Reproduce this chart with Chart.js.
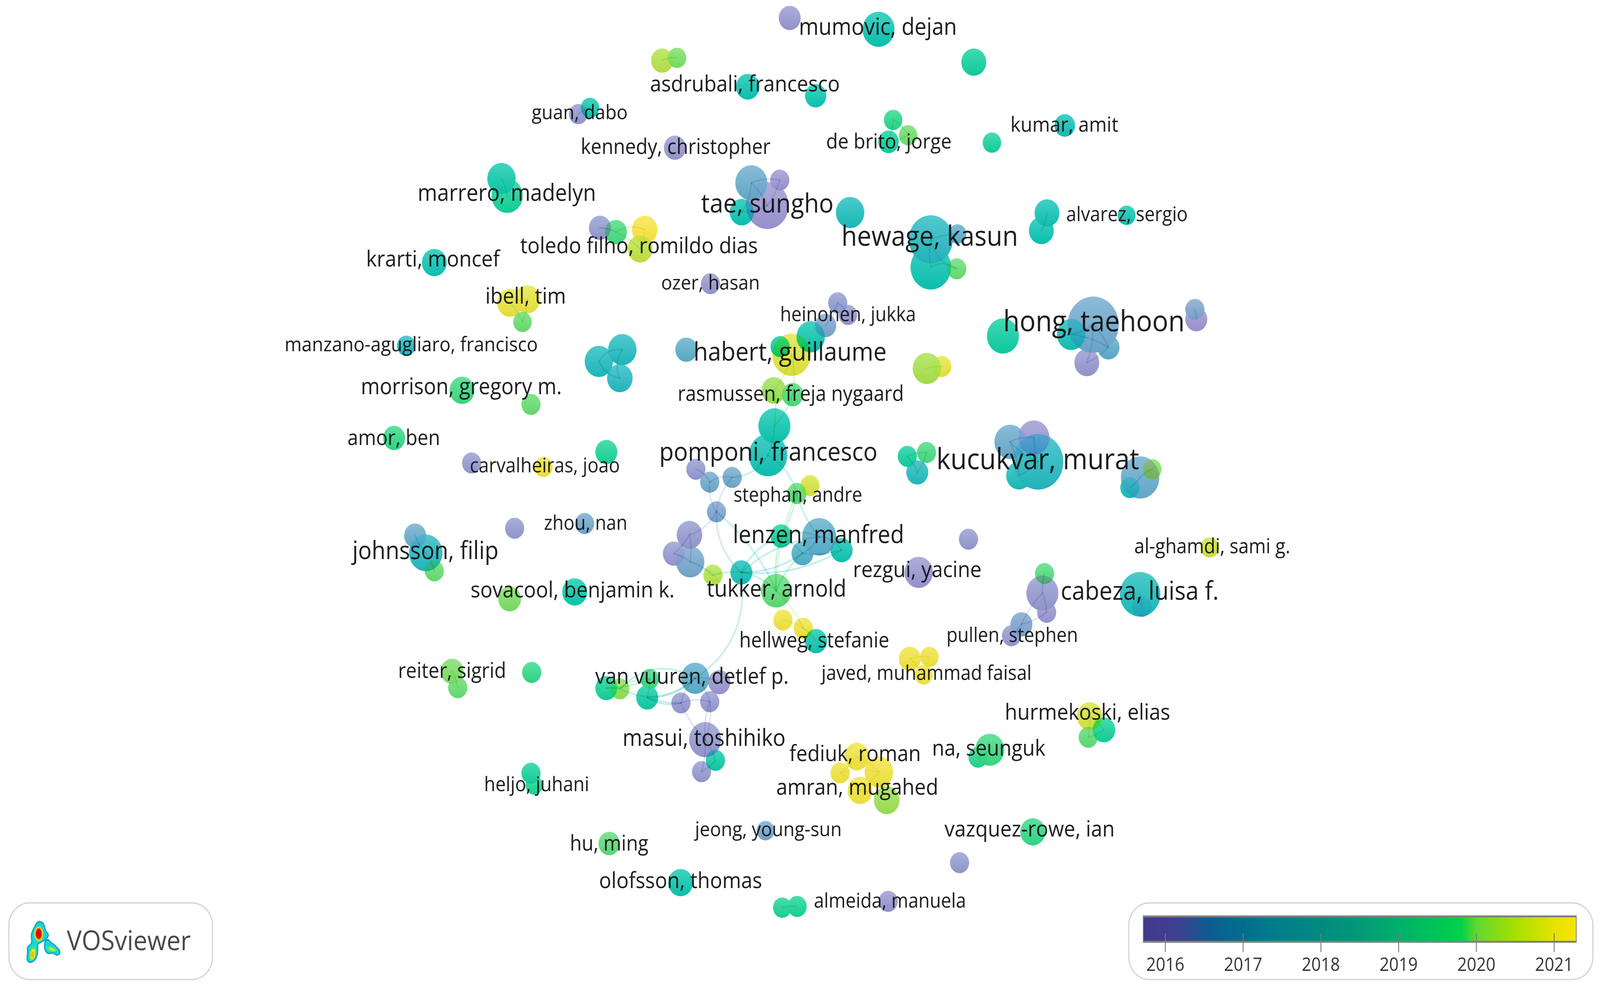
<!DOCTYPE html>
<html>
<head>
<meta charset="utf-8">
<style>html,body{margin:0;padding:0;background:#fff;overflow:hidden}canvas{display:block}</style>
<script src="https://cdn.jsdelivr.net/npm/chart.js@4"></script>
</head>
<body>
<canvas id="map" width="4502" height="2539" style="width:100vw;height:100vh"></canvas>
<script>
// Author nodes (map coordinates, link weight, average publication year)
const mapX = [1863,1905,1627,1660,1899,1411,1427,1688,1733,1814,1801,1222,1435,1484,1470,1143,1685,1751,1744,1931,1300,1494,1109,1706,1327,1529,
2222,2472,2740,2104,2295,2513,2555,2500,2791,2996,3170,2946,2930,2114,2194,2159,2087,2392,2619,2619,2694,2692,2357,2386,2323,2281,2195,2227,2177,2230,2179,2161,2608,2650,2822,3076,3014,3119,3058,3362,3366,
2553,2607,2581,2921,2842,2909,2867,3208,3179,3242,2725,2585,3404,2939,2933,2945,2874,2846,3208,3213,2560,2615,2599,3066,3106,3062,2785,2752,
2203,2260,2296,2411,2364,2473,2420,2495,2154,2906,2700,2201,2243,2499,
1198,1168,1222,1448,1434,1272,1288,1496,1494,1503,
1958,1997,2060,2016,1645,1940,1896,1942,2006,2086,2184,1617,2198,2305,2258,2368,2242,2279,1956,2024,1828,1706,1744,1821,1916,1997,1984,2013,1974,1714,1915,1999];
const mapY = [155,148,292,276,378,457,501,583,594,588,637,672,775,766,824,885,925,895,968,895,999,1035,1121,1157,1185,1195,
46,75,159,222,245,307,346,363,365,321,551,545,590,468,461,526,543,544,684,613,599,688,775,806,833,862,887,908,999,1010,1090,1165,943,938,860,831,856,889,928,792,817,
1168,1158,1209,1182,1131,1120,1217,1222,1248,1201,1380,1465,1401,1468,1518,1567,1598,1627,1521,1552,1686,1681,1727,1833,1868,1887,1919,1938,
1587,1608,1641,1936,1978,1976,2023,2048,2126,2129,2208,2323,2320,2307,
1415,1371,1461,1352,1533,1718,1760,1721,1979,2010,
1201,1234,1222,1310,1340,1369,1417,1438,1472,1465,1512,1515,1372,1374,1416,1408,1263,1243,1736,1746,1738,1761,1763,1785,1799,1796,1893,1946,1975,2159,2259,726];
const weights = [31,26,26,26,31,40,44,31,31,36,35,35,36,36,26,26,40,40,36,31,35,27,31,31,27,26,
31,45,35,33,30,26,26,29,26,29,25,35,35,45,27,60,34,40,57,62,25,27,27,26,30,40,27,54,34,30,45,54,40,27,45,72,40,31,35,27,31,
27,27,31,71,44,44,36,54,27,26,27,40,26,27,45,27,31,27,57,27,31,26,25,36,32,27,41,27,
27,27,31,35,27,40,35,36,25,35,27,26,27,27,
47,31,27,27,32,32,27,27,27,24,
27,27,27,27,27,36,31,40,27,31,43,35,30,48,31,31,27,27,40,31,26,31,27,31,27,27,45,27,27,30,35,27];
const avgYears = [2020.3,2019.8,2016.2,2018.2,2016.1,2018.2,2018.6,2016.3,2019.3,2021,2020.4,2018,2020.8,2020.8,2019.6,2017.5,2017.6,2017.6,2017.5,2017.1,2019.2,2019.6,2019.1,2018.7,2016.2,2020.9,
2016.1,2018,2018.5,2018,2018.1,2019,2019.7,2018.5,2018.6,2017.9,2018.1,2017.9,2018,2017,2016,2016,2018,2017.7,2018,2017.5,2017.1,2019.6,2016.4,2016.1,2016.7,2018.1,2018.2,2020.7,2020.1,2019.4,2018.1,2017.9,2020.2,2020.8,2018.4,2016.9,2017.8,2017.1,2016.1,2016.7,2016,
2018.5,2019.3,2017.6,2017.5,2017,2016.1,2017.7,2017,2017.7,2019.9,2016.2,2016.1,2020.5,2019.4,2016.2,2016.1,2016.7,2016.2,2017.7,2016.9,2020.9,2020.9,2020.9,2020.6,2018.6,2019.5,2019.2,2018.9,
2020.9,2020.9,2018.1,2020.9,2020.9,2020.9,2020.9,2020.1,2016.8,2019.1,2016.3,2018.7,2018.7,2016.1,
2017.5,2017,2019.6,2016.2,2019.8,2019.8,2019.6,2019.1,2018.6,2018.8,
2016.2,2016.9,2016.9,2016.7,2016.9,2016.2,2016.2,2016.8,2020.3,2017.8,2019.5,2018.2,2018.6,2017.1,2017.2,2018,2019.5,2020.6,2017.1,2016.1,2019.2,2018.6,2020,2018.3,2016.2,2016.2,2016.2,2018.3,2016.2,2019.5,2018.1,2016.1];

// Co-authorship links: node index pairs and how far each one bows
const linkFrom = [0,2,5,7,8,8,9,12,12,13,16,16,17,31,31,32,37,39,39,39,40,41,44,45,44,45,48,48,53,53,54,55,56,58,61,61,61,62,63,65,67,67,68,70,70,71,70,71,74,74,81,81,81,82,83,85,87,87,88,90,90,91,93,106,98,98,99,99,100,101,109,109,114,119,120,120,121,122,124,124,125,122,128,128,128,128,128,127,126,131,131,132,132,133,129,129,129,57,135,135,122,129,95,96,128,137,137,137,143,143,144,144,145,145,146,139,141,141,139,141,142,142,143,140,57];
const linkTo = [1,3,6,8,9,10,10,13,14,14,17,18,18,32,33,33,38,40,41,42,41,42,45,46,47,47,49,50,54,55,56,56,57,59,62,63,64,63,64,66,68,69,69,71,72,72,73,73,75,76,80,82,83,83,84,86,88,89,89,92,91,92,94,107,99,100,100,101,101,102,110,111,115,120,122,121,122,124,125,126,126,128,131,132,133,134,129,128,127,132,133,133,134,134,131,133,135,135,131,132,129,96,96,97,137,143,144,138,144,145,145,145,146,147,147,140,139,137,142,137,137,143,142,141,121];
const linkBend = [0.15,0.1,0.1,0.1,0.25,0.1,0.1,0.1,0.1,0.1,0.3,-0.25,-0.3,0.15,0.1,0.1,0.1,0.15,0.1,0.15,0.1,0.1,0.1,0.1,0.3,-0.3,0.15,0.1,0.12,0.12,0.1,0.12,0.1,0.1,0.1,0.1,0.1,0.1,0.1,0.1,0.1,0.1,0.1,0.1,0.1,0.15,0.1,0.1,0.1,0.1,0.1,0.1,-0.1,0.1,0.1,0.1,0.1,0.1,0.1,0.1,0.1,0.1,0.1,0.1,0.1,0.1,0.1,0.1,0.1,0.1,0.1,0.1,0.1,0.2,-0.2,0.2,-0.15,0.2,0.1,0.1,0.1,-0.25,0.2,0.15,-0.15,-0.15,0.15,0.1,0.1,0.2,0.1,0.15,0.25,-0.1,0.12,0.12,0.12,0.2,0.1,-0.12,0.12,0.1,0.1,0.1,0.33,-0.15,0.15,0.15,0.15,-0.1,0.15,-0.12,0.1,0.1,0.1,0.1,0.2,0.35,0.1,-0.3,-0.2,-0.2,0.1,0.1,0.25];

// Author names shown on the map
const labelNames = ["mumovic, dejan","asdrubali, francesco","guan, dabo","kennedy, christopher","de brito, jorge","kumar, amit","marrero, madelyn","tae, sungho","toledo filho, romildo dias","alvarez, sergio","hewage, kasun","krarti, moncef","ozer, hasan","ibell, tim","heinonen, jukka","manzano-agugliaro, francisco","hong, taehoon","habert, guillaume","rasmussen, freja nygaard","morrison, gregory m.","amor, ben","carvalheiras, joao","pomponi, francesco","kucukvar, murat","stephan, andre","zhou, nan","lenzen, manfred","johnsson, filip","al-ghamdi, sami g.","rezgui, yacine","sovacool, benjamin k.","tukker, arnold","cabeza, luisa f.","hellweg, stefanie","pullen, stephen","reiter, sigrid","javed, muhammad faisal","van vuuren, detlef p.","hurmekoski, elias","masui, toshihiko","na, seunguk","fediuk, roman","amran, mugahed","heljo, juhani","vazquez-rowe, ian","jeong, young-sun","hu, ming","olofsson, thomas","almeida, manuela"];
const labelX = [2470,2096,1631,1901,2501,2995,1426,2159,1798,3171,2616,1218,1999,1479,2386,1157,3078,2223,2225,1298,1108,1533,2162,2920,2245,1648,2303,1197,3411,2581,1611,2185,3207,2291,2848,1272,2607,1947,3060,1981,2782,2406,2412,1510,2897,2162,1714,1915,2504];
const labelY = [72,218,290,379,365,322,497,525,632,551,609,666,726,761,807,884,827,904,1011,993,1123,1194,1160,1180,1269,1341,1372,1413,1401,1461,1513,1510,1516,1642,1628,1720,1725,1734,1826,1892,1918,1932,2018,2010,2125,2125,2162,2257,2308];
const labelSpan = [445,534,270,534,353,304,502,373,669,342,497,376,278,227,382,712,511,543,637,566,261,422,614,571,362,235,482,411,439,362,574,393,445,422,370,304,591,545,465,459,319,370,456,296,479,413,221,459,428];

// Colour scale
const scaleYears = [2016,2017,2018,2019,2020,2021];
const scaleStopYears = [2015.72,2016.15,2016.6,2017,2017.5,2018,2018.5,2019,2019.8,2020,2020.5,2021,2021.28];
const scaleStopColours = ["#423a8e","#3f3f8f","#0c5f90","#006f8f","#00808b","#008a80","#009a78","#00b06c","#00d24a","#62d830","#a6e000","#e6e200","#f8e400"];

// Node colour ramp, which is the scale above as it looks once nodes are translucent
const rampYears = [2016,2016.5,2017,2017.5,2018,2018.5,2019,2019.5,2020,2020.5,2021];
const rampColours = [[154,148,208],[138,158,208],[103,170,204],[36,184,194],[10,196,178],[14,208,158],[36,216,138],[92,220,118],[141,224,85],[205,228,60],[250,228,60]];

function rampAt(y){
  y=Math.min(2021,Math.max(2016,y));
  let i=0; while(i<rampYears.length-2 && y>rampYears[i+1]) i++;
  const t=(y-rampYears[i])/(rampYears[i+1]-rampYears[i]);
  return rampColours[i].map((v,k)=>v+(rampColours[i+1][k]-v)*t);
}
const rgb=c=>`rgb(${c.map(Math.round).join(",")})`;
function nodeFill(ctx){
  const i=ctx.dataIndex;
  if(i===undefined||!ctx.chart.chartArea) return "#888";
  const sy=ctx.chart.scales.y, base=rampAt(avgYears[i]);
  const py=sy.getPixelForValue(mapY[i]), r=weights[i];
  const g=ctx.chart.ctx.createLinearGradient(0,py-r,0,py+r);
  g.addColorStop(0,rgb(base.map(v=>v+(255-v)*0.22)));
  g.addColorStop(1,rgb(base.map(v=>v*0.97)));
  return g;
}

const linkPlugin={id:"links",
beforeDatasetDraw(chart){chart.ctx.save();chart.ctx.globalCompositeOperation="darken";},
afterDatasetDraw(chart){
  chart.ctx.restore();
  const c=chart.ctx,sx=chart.scales.x,sy=chart.scales.y;
  c.save(); c.lineCap="round"; c.globalCompositeOperation="multiply";
  linkFrom.forEach((a,n)=>{
    const b=linkTo[n];
    const x0=sx.getPixelForValue(mapX[a]),y0=sy.getPixelForValue(mapY[a]);
    const x1=sx.getPixelForValue(mapX[b]),y1=sy.getPixelForValue(mapY[b]);
    const dx=x1-x0,dy=y1-y0,k=linkBend[n];
    c.strokeStyle=rgb(rampAt((avgYears[a]+avgYears[b])/2).map(v=>v+(255-v)*0.72));
    c.lineWidth=4;
    c.beginPath();c.moveTo(x0,y0);
    c.quadraticCurveTo((x0+x1)/2+k*dy,(y0+y1)/2-k*dx,x1,y1);
    c.stroke();
  });
  c.restore();
}};

function roundPanel(c,x0,y0,x1,y1,r){
  c.save();c.fillStyle="#fff";c.strokeStyle="#d0d0d0";c.lineWidth=3;
  c.beginPath();c.roundRect(x0,y0,x1-x0,y1-y0,r);c.fill();c.stroke();c.restore();
}
function blob(c,pts){
  c.beginPath();
  const m=(p,q)=>[(p[0]+q[0])/2,(p[1]+q[1])/2];
  let s=m(pts[pts.length-1],pts[0]);c.moveTo(s[0],s[1]);
  pts.forEach((p,i)=>{const e=m(p,pts[(i+1)%pts.length]);c.quadraticCurveTo(p[0],p[1],e[0],e[1]);});
  c.closePath();
}
function drawLogo(c){
  const upper=[[107,2356],[124,2363],[127,2382],[138,2392],[130,2405],[112,2413],[105,2417],[107,2437],[100,2457],[85,2465],[75,2458],[78,2437],[76,2423],[91,2415],[87,2393],[94,2377]];
  const right=[[136,2403],[143,2413],[154,2418],[172,2437],[161,2447],[150,2438],[134,2442],[125,2430],[125,2410]];
  [upper,right].forEach(p=>{blob(c,p);c.fillStyle="#19d4de";c.fill();c.strokeStyle="#0a9cc4";c.lineWidth=3;c.stroke();});
  const e=(x,y,rx,ry,col,rot)=>{c.beginPath();c.ellipse(x,y,rx,ry,rot||0,0,7);c.fillStyle=col;c.fill();};
  e(109,2391,14,21,"#3fe07a");e(109,2390,12,18,"#e9ee20");e(109,2390,10,16,"#ff8a00");e(109,2390,8,13,"#e20b0b");
  e(92,2440,10,20,"#45e07c",0.2);e(92,2442,7,14,"#d8ec20",0.2);e(91,2444,4,8,"#ffb400",0.2);
  e(145,2429,15,6,"#4de880",0.3);e(146,2430,9,3.5,"#cfee10",0.3);
}
const furniturePlugin={id:"furniture",afterDatasetsDraw(chart){
  const c=chart.ctx,sx=chart.scales.x,sy=chart.scales.y;
  c.save();
  // Author labels: each is fitted to the span it takes in the reference
  c.textAlign="center";c.textBaseline="middle";c.fillStyle="rgba(18,18,18,0.96)";
  labelNames.forEach((t,i)=>{
    c.font="100px 'Open Sans'";
    const size=100*labelSpan[i]/c.measureText(t).width;
    c.font=size.toFixed(1)+"px 'Open Sans'";
    c.fillText(t,sx.getPixelForValue(labelX[i]),sy.getPixelForValue(labelY[i]));
  });
  // VOSviewer badge
  roundPanel(c,25,2311,598,2507,58);
  drawLogo(c);
  c.fillStyle="#484848";c.textAlign="left";c.textBaseline="alphabetic";
  c.font="70px 'Open Sans'";c.fillText("VOSviewer",188,2432);
  // Colour scale
  roundPanel(c,3176,2311,4482,2507,58);
  const yearX=y=>3279+(y-2016)*218.8;
  const x0=yearX(scaleStopYears[0]),x1=yearX(scaleStopYears[scaleStopYears.length-1]);
  const g=c.createLinearGradient(x0,0,x1,0);
  scaleStopYears.forEach((y,i)=>g.addColorStop((y-scaleStopYears[0])/(scaleStopYears[scaleStopYears.length-1]-scaleStopYears[0]),scaleStopColours[i]));
  c.fillStyle="#808080";c.fillRect(x0-2,2343,x1-x0+4,70);
  c.fillStyle=g;c.fillRect(x0,2348,x1-x0,60);
  c.strokeStyle="#7a7a7a";c.lineWidth=2.5;c.fillStyle="#333";
  c.font="47px 'Open Sans'";c.textAlign="center";
  scaleYears.forEach(y=>{
    const x=yearX(y);
    c.beginPath();c.moveTo(x,2388);c.lineTo(x,2437);c.stroke();
    c.fillText(String(y),x,2485);
  });
  c.restore();
}};

new Chart(document.getElementById("map"),{
  type:"bubble",
  data:{datasets:[{
    label:"Authors",
    data:mapX.map((x,i)=>({x,y:mapY[i],r:weights[i]})),
    backgroundColor:nodeFill,
    borderWidth:0,hoverBorderWidth:0,clip:false
  }]},
  options:{
    responsive:false,animation:false,events:[],devicePixelRatio:1,
    layout:{padding:0,autoPadding:false},
    plugins:{legend:{display:false},tooltip:{enabled:false}},
    scales:{
      x:{type:"linear",min:0,max:4502,display:false},
      y:{type:"linear",min:0,max:2539,reverse:true,display:false}
    }
  },
  plugins:[linkPlugin,furniturePlugin]
});
</script>
</body>
</html>
